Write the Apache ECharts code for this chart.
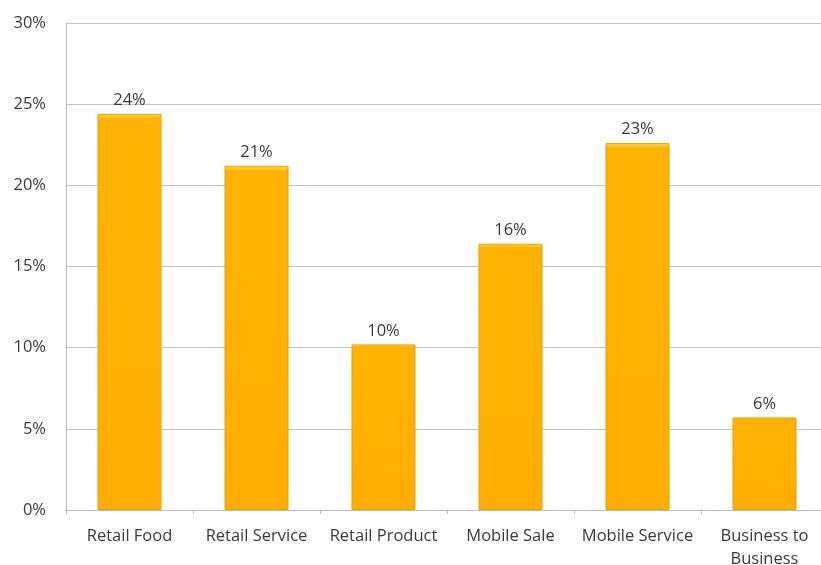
<!DOCTYPE html>
<html>
<head>
<meta charset="utf-8">
<script src="https://cdn.jsdelivr.net/npm/echarts@6/dist/echarts.min.js"></script>
<style>
  html, body { margin: 0; padding: 0; background: #ffffff; }
  #chart { width: 821px; height: 565px; }
</style>
</head>
<body>
<div id="chart"></div>
<script>
// Share of businesses by type (percent)
const categories = ['Retail Food', 'Retail Service', 'Retail Product', 'Mobile Sale', 'Mobile Service', 'Business to\nBusiness'];
const shares = [24.4, 21.2, 10.2, 16.4, 22.6, 5.7];
const yTicks = [0, 5, 10, 15, 20, 25, 30];

const textColor = '#3a3a3a';
const fontFamily = 'Open Sans, Noto Sans, sans-serif';
const fontSize = 16.5;

const chart = echarts.init(document.getElementById('chart'), null, { renderer: 'canvas' });

chart.setOption({
  animation: false,
  backgroundColor: '#ffffff',
  grid: { left: 66, top: 23, width: 762, bottom: 55, containLabel: false, outerBoundsMode: 'none' },
  xAxis: {
    type: 'category',
    data: categories,
    axisLine: { show: true, lineStyle: { color: '#bdbdbd', width: 1 } },
    axisTick: { show: true, length: 4, alignWithLabel: false, lineStyle: { color: '#bdbdbd' } },
    axisLabel: {
      color: textColor, fontFamily: fontFamily, fontSize: fontSize, margin: 15,
      lineHeight: 23, interval: 0
    },
    splitLine: { show: false }
  },
  yAxis: {
    type: 'value',
    min: yTicks[0],
    max: yTicks[yTicks.length - 1],
    interval: yTicks[1] - yTicks[0],
    axisLine: { show: true, lineStyle: { color: '#bdbdbd', width: 1 } },
    axisTick: { show: false },
    axisLabel: {
      color: textColor, fontFamily: fontFamily, fontSize: fontSize, margin: 20,
      formatter: v => v + '%'
    },
    splitLine: { show: true, lineStyle: { color: '#c4c4c4', width: 1 } }
  },
  series: [{
    type: 'bar',
    data: shares,
    barWidth: 64,
    itemStyle: {
      color: new echarts.graphic.LinearGradient(0, 0, 0, 1, [
        { offset: 0, color: '#ffdc50' },
        { offset: 0.015, color: '#ffb300' },
        { offset: 1, color: '#ffad00' }
      ]),
      borderColor: '#e9a000',
      borderWidth: 1
    },
    label: {
      show: true,
      position: 'top',
      distance: 5,
      color: textColor,
      fontFamily: fontFamily,
      fontSize: fontSize,
      formatter: p => Math.round(p.value) + '%'
    }
  }]
});
</script>
</body>
</html>
